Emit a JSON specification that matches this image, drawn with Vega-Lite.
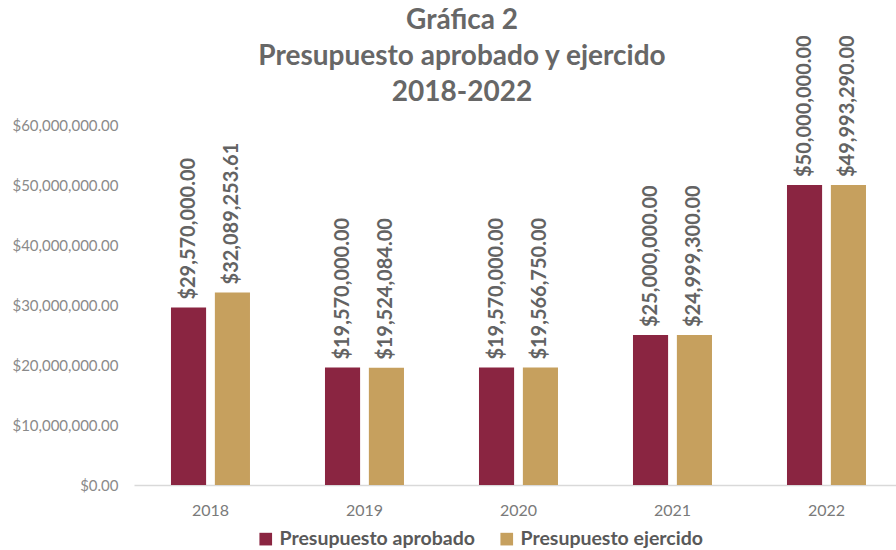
{
  "$schema": "https://vega.github.io/schema/vega-lite/v6.json",
  "autosize": {"type": "none"},
  "width": 762,
  "height": 360,
  "padding": {"left": 134, "top": 125, "right": 0, "bottom": 65},
  "background": "white",
  "title": {
    "text": ["Gráfica 2", "Presupuesto aprobado y ejercido", "2018-2022"],
    "font": "Lato",
    "fontSize": 28,
    "fontWeight": "bold",
    "color": "#676767",
    "lineHeight": 36,
    "anchor": "middle",
    "dx": -53,
    "dy": 88,
    "offset": 16
  },
  "data": {
    "values": [
      {"year": "2018", "serie": "Presupuesto aprobado", "value": 29570000.00},
      {"year": "2018", "serie": "Presupuesto ejercido", "value": 32089253.61},
      {"year": "2019", "serie": "Presupuesto aprobado", "value": 19570000.00},
      {"year": "2019", "serie": "Presupuesto ejercido", "value": 19524084.00},
      {"year": "2020", "serie": "Presupuesto aprobado", "value": 19570000.00},
      {"year": "2020", "serie": "Presupuesto ejercido", "value": 19566750.00},
      {"year": "2021", "serie": "Presupuesto aprobado", "value": 25000000.00},
      {"year": "2021", "serie": "Presupuesto ejercido", "value": 24999300.00},
      {"year": "2022", "serie": "Presupuesto aprobado", "value": 50000000.00},
      {"year": "2022", "serie": "Presupuesto ejercido", "value": 49993290.00}
    ]
  },
  "encoding": {
    "x": {
      "field": "year",
      "type": "nominal",
      "title": null,
      "scale": {"paddingInner": 0.487, "paddingOuter": 0.2175, "align": 0.552},
      "axis": {
        "labelAngle": 0,
        "labelFont": "Lato",
        "labelFontSize": 16,
        "labelColor": "#7a7a7a",
        "labelPadding": 17,
        "ticks": false,
        "domainColor": "#d9d9d9",
        "domainWidth": 1.5,
        "grid": false
      }
    },
    "xOffset": {
      "field": "serie",
      "type": "nominal",
      "scale": {"paddingInner": 0.2}
    },
    "y": {
      "field": "value",
      "type": "quantitative",
      "title": null,
      "scale": {"domain": [0, 60000000]},
      "axis": {
        "values": [0, 10000000, 20000000, 30000000, 40000000, 50000000, 60000000],
        "format": "$,.2f",
        "labelFont": "Lato",
        "labelFontSize": 15,
        "labelColor": "#8a8a8a",
        "labelPadding": 16,
        "domain": false,
        "ticks": false,
        "grid": false
      }
    }
  },
  "layer": [
    {
      "mark": {"type": "bar"},
      "encoding": {
        "color": {
          "field": "serie",
          "type": "nominal",
          "title": null,
          "scale": {"domain": ["Presupuesto aprobado", "Presupuesto ejercido"], "range": ["#8a2541", "#c6a05e"]},
          "legend": {
            "orient": "none",
            "direction": "horizontal",
            "legendX": 122,
            "legendY": 404,
            "symbolType": "square",
            "symbolSize": 160,
            "symbolStrokeWidth": 0,
            "labelFont": "Lato",
            "labelFontSize": 19.5,
            "labelFontWeight": "bold",
            "labelColor": "#595959",
            "columnPadding": 22,
            "labelLimit": 300
          }
        }
      }
    },
    {
      "mark": {
        "type": "text",
        "angle": -90,
        "align": "left",
        "baseline": "middle",
        "dx": 8,
        "font": "Lato",
        "fontSize": 20,
        "fontWeight": "bold",
        "color": "#636363"
      },
      "encoding": {
        "text": {"field": "value", "type": "quantitative", "format": "$,.2f"}
      }
    }
  ],
  "config": {"view": {"stroke": null}}
}
